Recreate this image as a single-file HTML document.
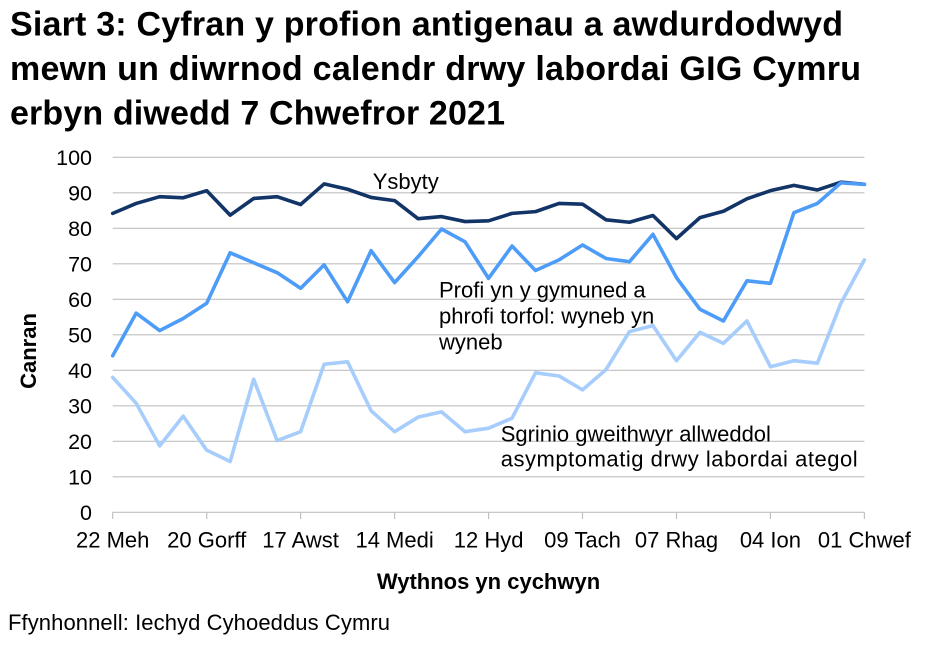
<!DOCTYPE html>
<html>
<head>
<meta charset="utf-8">
<style>
  html, body { margin: 0; padding: 0; background: #ffffff; }
  svg { display: block; }
  text { font-family: "Liberation Sans", Arial, sans-serif; fill: #000; }
</style>
</head>
<body>
<svg width="929" height="647" viewBox="0 0 929 647" xmlns="http://www.w3.org/2000/svg">
  <rect x="0" y="0" width="929" height="647" fill="#ffffff"/>

  <!-- Title -->
  <text x="10" y="35.5" font-size="34" font-weight="bold" textLength="833" lengthAdjust="spacing">Siart 3: Cyfran y profion antigenau a awdurdodwyd</text>
  <text x="10" y="80" font-size="34" font-weight="bold" textLength="851" lengthAdjust="spacing">mewn un diwrnod calendr drwy labordai GIG Cymru</text>
  <text x="10" y="124.5" font-size="34" font-weight="bold" textLength="495" lengthAdjust="spacing">erbyn diwedd 7 Chwefror 2021</text>

  <!-- Gridlines -->
  <g stroke="#c0c0c0" stroke-width="1.2">
    <line x1="112.7" y1="157.3" x2="864.4" y2="157.3"/>
    <line x1="112.7" y1="192.8" x2="864.4" y2="192.8"/>
    <line x1="112.7" y1="228.3" x2="864.4" y2="228.3"/>
    <line x1="112.7" y1="263.8" x2="864.4" y2="263.8"/>
    <line x1="112.7" y1="299.3" x2="864.4" y2="299.3"/>
    <line x1="112.7" y1="334.8" x2="864.4" y2="334.8"/>
    <line x1="112.7" y1="370.3" x2="864.4" y2="370.3"/>
    <line x1="112.7" y1="405.8" x2="864.4" y2="405.8"/>
    <line x1="112.7" y1="441.3" x2="864.4" y2="441.3"/>
    <line x1="112.7" y1="476.8" x2="864.4" y2="476.8"/>
    <line x1="112.7" y1="512.3" x2="864.4" y2="512.3"/>
    <!-- ticks -->
    <line x1="112.7" y1="512.3" x2="112.7" y2="519"/>
    <line x1="206.7" y1="512.3" x2="206.7" y2="519"/>
    <line x1="300.6" y1="512.3" x2="300.6" y2="519"/>
    <line x1="394.6" y1="512.3" x2="394.6" y2="519"/>
    <line x1="488.6" y1="512.3" x2="488.6" y2="519"/>
    <line x1="582.5" y1="512.3" x2="582.5" y2="519"/>
    <line x1="676.5" y1="512.3" x2="676.5" y2="519"/>
    <line x1="770.4" y1="512.3" x2="770.4" y2="519"/>
    <line x1="864.4" y1="512.3" x2="864.4" y2="519"/>
  </g>

  <!-- Y tick labels -->
  <g font-size="21.5" text-anchor="end">
    <text x="92" y="165">100</text>
    <text x="92" y="200.5">90</text>
    <text x="92" y="236">80</text>
    <text x="92" y="271.5">70</text>
    <text x="92" y="307">60</text>
    <text x="92" y="342.5">50</text>
    <text x="92" y="378">40</text>
    <text x="92" y="413.5">30</text>
    <text x="92" y="449">20</text>
    <text x="92" y="484.5">10</text>
    <text x="92" y="520">0</text>
  </g>

  <!-- X tick labels -->
  <g font-size="22" text-anchor="middle">
    <text x="112.7" y="547.5">22 Meh</text>
    <text x="206.7" y="547.5">20 Gorff</text>
    <text x="300.6" y="547.5">17 Awst</text>
    <text x="394.6" y="547.5">14 Medi</text>
    <text x="488.6" y="547.5">12 Hyd</text>
    <text x="582.5" y="547.5">09 Tach</text>
    <text x="676.5" y="547.5">07 Rhag</text>
    <text x="770.4" y="547.5">04 Ion</text>
    <text x="864.4" y="547.5">01 Chwef</text>
  </g>

  <!-- Series -->
  <g transform="translate(112.7,512.3) scale(23.49,-3.55)" fill="none" stroke-linejoin="round" stroke-linecap="round">
    <polyline vector-effect="non-scaling-stroke" stroke="#123467" stroke-width="3.6"
      points="0,84.2 1,87.0 2,88.9 3,88.6 4,90.6 5,83.7 6,88.4 7,88.9 8,86.7 9,92.5 10,91.0 11,88.7 12,87.8 13,82.7 14,83.3 15,81.9 16,82.1 17,84.2 18,84.7 19,87.0 20,86.8 21,82.4 22,81.7 23,83.6 24,77.1 25,83.0 26,84.8 27,88.3 28,90.6 29,92.1 30,90.8 31,93.0 32,92.4"/>
    <polyline vector-effect="non-scaling-stroke" stroke="#4d9cf8" stroke-width="3.6"
      points="0,44.1 1,56.1 2,51.2 3,54.6 4,58.9 5,73.1 6,70.3 7,67.5 8,63.1 9,69.7 10,59.3 11,73.7 12,64.7 13,72.0 14,79.8 15,76.2 16,65.9 17,75.0 18,68.1 19,71.1 20,75.3 21,71.5 22,70.6 23,78.3 24,66.1 25,57.2 26,53.9 27,65.2 28,64.5 29,84.4 30,87.0 31,92.8 32,92.4"/>
    <polyline vector-effect="non-scaling-stroke" stroke="#a6cdfb" stroke-width="3.6"
      points="0,38.0 1,30.7 2,18.7 3,27.1 4,17.5 5,14.3 6,37.5 7,20.2 8,22.7 9,41.7 10,42.4 11,28.6 12,22.7 13,26.8 14,28.3 15,22.7 16,23.7 17,26.5 18,39.3 19,38.4 20,34.5 21,40.2 22,50.9 23,52.6 24,42.7 25,50.7 26,47.6 27,53.9 28,41.0 29,42.7 30,42.0 31,58.9 32,71.1"/>
  </g>

  <!-- Series labels -->
  <g font-size="22">
    <text x="372.7" y="189">Ysbyty</text>
    <text x="439" y="297.3">Profi yn y gymuned a</text>
    <text x="439" y="323.3">phrofi torfol: wyneb yn</text>
    <text x="439" y="349.3">wyneb</text>
    <text x="500.7" y="441.7">Sgrinio gweithwyr allweddol</text>
    <text x="500.7" y="466.7" textLength="357" lengthAdjust="spacing">asymptomatig drwy labordai ategol</text>
  </g>

  <!-- Axis titles -->
  <text transform="translate(36,351) rotate(-90)" font-size="22" font-weight="bold" text-anchor="middle">Canran</text>
  <text x="488.5" y="589" font-size="22" font-weight="bold" text-anchor="middle">Wythnos yn cychwyn</text>

  <!-- Source -->
  <text x="8" y="630" font-size="22" textLength="382" lengthAdjust="spacing">Ffynhonnell: Iechyd Cyhoeddus Cymru</text>
</svg>
</body>
</html>
